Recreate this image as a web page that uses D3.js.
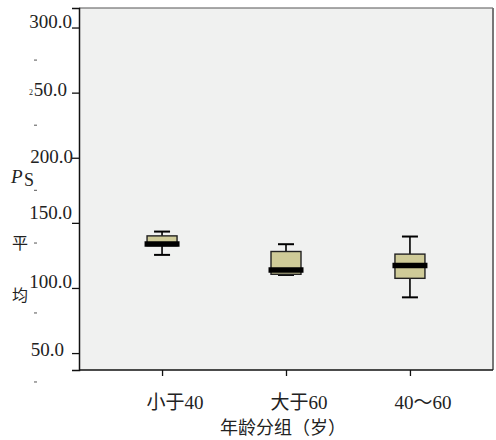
<!DOCTYPE html>
<html><head><meta charset="utf-8">
<script src="https://cdn.jsdelivr.net/npm/d3@7"></script>
<style>
html,body{margin:0;padding:0;background:#fff;}
svg text{font-family:"Liberation Serif","Noto Sans CJK SC",serif;fill:#222;}
</style></head>
<body><svg id="c" width="496" height="440"></svg>
<script>
// ---- data ----
const categories = ["小于40", "大于60", "40～60"];
const whiskerLow  = [125.4, 110.0, 92.8];
const q1          = [132.5, 110.5, 107.4];
const medians     = [133.8, 113.8, 117.2];
const q3          = [140.0, 128.0, 126.0];
const whiskerHigh = [143.3, 133.6, 139.5];
const yTicks = [300, 250, 200, 150, 100, 50];
const yTickLabels = ["300.0", "50.0", "200.0", "150.0", "100.0", "50.0"];
const minorTicks = [275, 225, 175, 134.5, 80.8, 27.8];
const xTitle = "年龄分组（岁）";

// ---- layout / style ----
const W = 496, H = 440;
const m = {l: 79, r: 3, t: 8, b: 70};
const labelNudge = [{x: 72, dy: 0}, {x: 67, dy: 3}, {x: 73, dy: 5}, {x: 72, dy: -4}, {x: 72, dy: 0}, {x: 64, dy: 3}];
const svg = d3.select("#c");

const x = d3.scalePoint().domain(categories).range([m.l, W - m.r]).padding(0.67);
const y = d3.scaleLinear().domain([37, 315]).range([H - m.b, m.t]);

// plot background
svg.append("rect").attr("x", m.l).attr("y", m.t)
  .attr("width", W - m.r - m.l).attr("height", H - m.b - m.t).attr("fill", "#f0f1f0");

// boxes
const boxW = 30, capW = 16, medW = 35;
const data = categories.map((c, i) => ({c, lo: whiskerLow[i], q1: q1[i], med: medians[i], q3: q3[i], hi: whiskerHigh[i]}));
const g = svg.append("g");
data.forEach(d => {
  const cx = x(d.c);
  g.append("line").attr("x1", cx).attr("x2", cx).attr("y1", y(d.hi)).attr("y2", y(d.q3)).attr("stroke", "#000").attr("stroke-width", 1.6);
  g.append("line").attr("x1", cx).attr("x2", cx).attr("y1", y(d.q1)).attr("y2", y(d.lo)).attr("stroke", "#000").attr("stroke-width", 1.6);
  g.append("line").attr("x1", cx - capW / 2).attr("x2", cx + capW / 2).attr("y1", y(d.hi)).attr("y2", y(d.hi)).attr("stroke", "#000").attr("stroke-width", 2);
  g.append("line").attr("x1", cx - capW / 2).attr("x2", cx + capW / 2).attr("y1", y(d.lo)).attr("y2", y(d.lo)).attr("stroke", "#000").attr("stroke-width", 2);
  g.append("rect").attr("x", cx - boxW / 2).attr("y", y(d.q3)).attr("width", boxW)
    .attr("height", y(d.q1) - y(d.q3)).attr("fill", "#cfcb98").attr("stroke", "#222").attr("stroke-width", 1.4);
  g.append("line").attr("x1", cx - medW / 2).attr("x2", cx + medW / 2).attr("y1", y(d.med)).attr("y2", y(d.med))
    .attr("stroke", "#000").attr("stroke-width", 5.5);
});

// frame
svg.append("line").attr("x1", m.l).attr("x2", W - m.r).attr("y1", m.t).attr("y2", m.t).attr("stroke", "#555").attr("stroke-width", 1.2);
svg.append("line").attr("x1", W - m.r).attr("x2", W - m.r).attr("y1", m.t).attr("y2", H - m.b).attr("stroke", "#777").attr("stroke-width", 2);

// y axis
const yAxis = d3.axisLeft(y).tickValues(yTicks).tickSize(7).tickFormat("");
const ya = svg.append("g").attr("transform", `translate(${m.l},0)`).call(yAxis);
ya.select(".domain").attr("stroke", "#111").attr("stroke-width", 1.5);
ya.selectAll(".tick line").attr("stroke", "#111").attr("stroke-width", 1.3);
yTicks.forEach((v, i) => {
  svg.append("text").attr("x", labelNudge[i].x).attr("y", y(v) + labelNudge[i].dy)
    .attr("text-anchor", "end").attr("font-size", 19).text(yTickLabels[i]);
});
// tiny "2" before "50.0"
svg.append("text").attr("x", 33).attr("y", y(250) + 2).attr("text-anchor", "end").attr("font-size", 8).attr("fill", "#777").text("2");
// minor dashes
svg.selectAll(".minor").data(minorTicks).enter().append("line")
  .attr("x1", 34).attr("x2", 37).attr("y1", d => y(d)).attr("y2", d => y(d)).attr("stroke", "#555").attr("stroke-width", 1);

// y label pieces
svg.append("text").attr("x", 11).attr("y", 183).attr("font-size", 19).attr("font-style", "italic").text("P");
svg.append("text").attr("x", 24).attr("y", 186).attr("font-size", 18).text("S");
svg.append("text").attr("x", 12).attr("y", 249).attr("font-size", 16).text("平");
svg.append("text").attr("x", 12).attr("y", 301).attr("font-size", 16).text("均");

// x axis
const xAxis = d3.axisBottom(x).tickSize(6).tickFormat("");
const xa = svg.append("g").attr("transform", `translate(0,${H - m.b})`).call(xAxis);
xa.select(".domain").attr("stroke", "#111").attr("stroke-width", 1.5).attr("d", `M${m.l},0H${W - m.r}`);
xa.selectAll(".tick line").attr("stroke", "#111").attr("stroke-width", 1.3);
svg.selectAll(".xl").data(categories).enter().append("text")
  .attr("x", d => x(d) + 13).attr("y", 409).attr("text-anchor", "middle").attr("font-size", 19).text(d => d);
svg.append("text").attr("x", 283).attr("y", 434).attr("text-anchor", "middle").attr("font-size", 18).text(xTitle);
</script></body></html>
